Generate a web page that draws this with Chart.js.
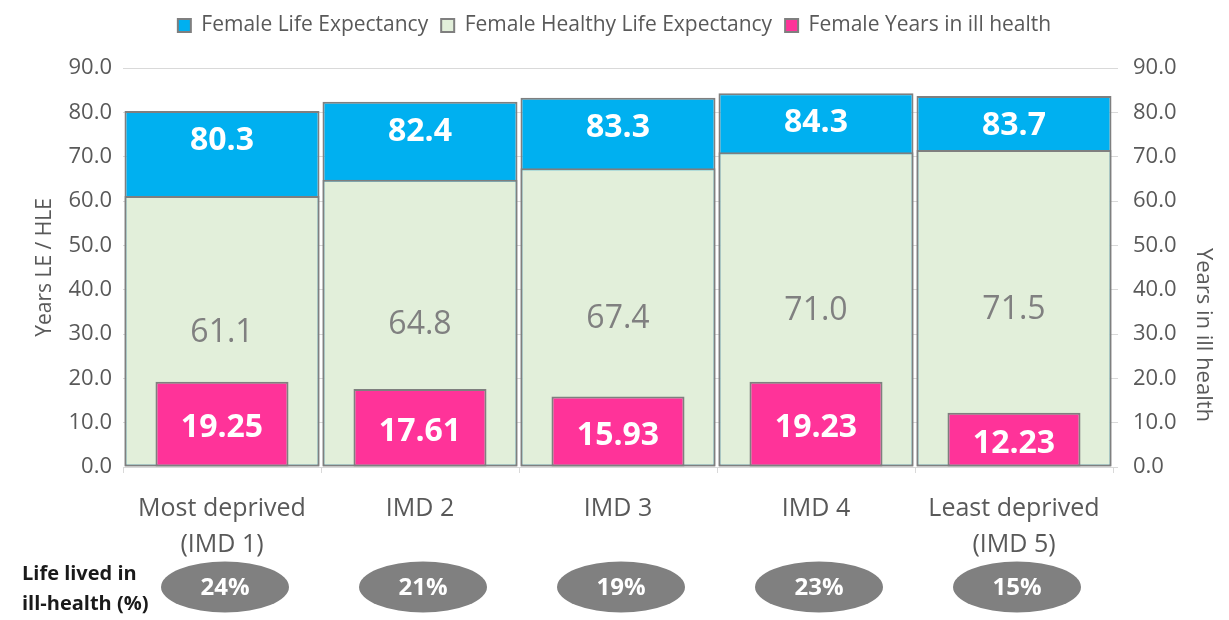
<!DOCTYPE html>
<html>
<head>
<meta charset="utf-8">
<script src="https://cdn.jsdelivr.net/npm/chart.js@4"></script>
<style>
  html, body { margin: 0; padding: 0; background: #fff; }
  #wrap { width: 1229px; height: 620px; }
</style>
</head>
<body>
<div id="wrap"><canvas id="lifeChart" width="1229" height="620"></canvas></div>
<script>
// ==================== DATA ====================
const categories = [['Most deprived', '(IMD 1)'], 'IMD 2', 'IMD 3', 'IMD 4', ['Least deprived', '(IMD 5)']];
const lifeExpectancy = [80.3, 82.4, 83.3, 84.3, 83.7];
const healthyLifeExpectancy = [61.1, 64.8, 67.4, 71.0, 71.5];
const yearsIllHealth = [19.25, 17.61, 15.93, 19.23, 12.23];
const illHealthPct = [24, 21, 19, 23, 15];
const yTickMin = 0, yTickMax = 90, yTickStep = 10;

const FONT = "'Open Sans', sans-serif";
const GREY_TEXT = '#595959';
const GRID = '#D9D9D9';

// ==================== LEGEND SPACER ====================
// extra room under the legend so the plot starts where the original does
const legendSpacer = {
  id: 'legendSpacer',
  beforeInit(chart) {
    const origFit = chart.legend.fit;
    chart.legend.fit = function() {
      origFit.bind(chart.legend)();
      this.height += 22;
    };
  }
};

// ==================== LABEL + ANNOTATION PLUGIN ====================
const extrasPlugin = {
  id: 'extras',
  afterDatasetsDraw(chart) {
    const ctx = chart.ctx;
    ctx.save();
    ctx.textAlign = 'center';
    ctx.textBaseline = 'middle';

    chart.data.datasets.forEach((ds, i) => {
      const meta = chart.getDatasetMeta(i);
      meta.data.forEach((el, j) => {
        const v = ds.data[j];
        if (ds.labelKind === 'top') {
          ctx.font = 'bold 32px ' + FONT;
          ctx.fillStyle = '#fff';
          ctx.fillText(v.toFixed(1), el.x, el.y + 30);
        } else if (ds.labelKind === 'mid') {
          ctx.font = '32px ' + FONT;
          ctx.fillStyle = '#808080';
          ctx.fillText(v.toFixed(1), el.x, (el.y + el.base) / 2 + 2);
        } else {
          ctx.font = 'bold 32px ' + FONT;
          ctx.fillStyle = '#fff';
          ctx.fillText(v.toFixed(2), el.x, (el.y + el.base) / 2 + 4);
        }
      });
    });
    ctx.restore();
  },
  afterDraw(chart) {
    const ctx = chart.ctx;
    const xs = chart.scales.x;
    ctx.save();

    // Ellipses with % of life in ill health
    illHealthPct.forEach((p, j) => {
      const cx = xs.getPixelForValue(j) + 3;
      ctx.beginPath();
      ctx.ellipse(cx, 587, 64, 25.5, 0, 0, Math.PI * 2);
      ctx.fillStyle = '#808080';
      ctx.fill();
      ctx.font = 'bold 24px ' + FONT;
      ctx.fillStyle = '#fff';
      ctx.textAlign = 'center';
      ctx.textBaseline = 'middle';
      ctx.fillText(p + '%', cx, 588);
    });

    // Row label
    ctx.font = 'bold 20px ' + FONT;
    ctx.fillStyle = '#1a1a1a';
    ctx.textAlign = 'left';
    ctx.textBaseline = 'middle';
    ctx.fillText('Life lived in', 22, 574);
    ctx.fillText('ill-health (%)', 22, 604);

    // Right axis title (sits lower than centre in the original)
    ctx.translate(1203, 335);
    ctx.rotate(Math.PI / 2);
    ctx.font = '22px ' + FONT;
    ctx.fillStyle = GREY_TEXT;
    ctx.textAlign = 'center';
    ctx.fillText('Years in ill health', 0, 0);
    ctx.restore();
  }
};

// ==================== CHART ====================
const ctx = document.getElementById('lifeChart').getContext('2d');
new Chart(ctx, {
  type: 'bar',
  data: {
    labels: categories,
    datasets: [
      {
        label: 'Female Life Expectancy',
        data: lifeExpectancy,
        backgroundColor: '#00B0F0',
        borderColor: '#7F7F7F',
        borderWidth: 2,
        borderSkipped: false,
        grouped: false,
        order: 2,
        barPercentage: 0.985,
        categoryPercentage: 1,
        yAxisID: 'y',
        labelKind: 'top'
      },
      {
        label: 'Female Healthy Life Expectancy',
        data: healthyLifeExpectancy,
        backgroundColor: '#E2EFDA',
        borderColor: '#7F7F7F',
        borderWidth: 2,
        borderSkipped: false,
        grouped: false,
        order: 1,
        barPercentage: 0.985,
        categoryPercentage: 1,
        yAxisID: 'y',
        labelKind: 'mid'
      },
      {
        label: 'Female Years in ill health',
        data: yearsIllHealth,
        backgroundColor: '#FF3399',
        borderColor: '#7F7F7F',
        borderWidth: 2,
        borderSkipped: false,
        grouped: false,
        order: 0,
        barPercentage: 0.672,
        categoryPercentage: 1,
        yAxisID: 'y2',
        labelKind: 'pink'
      }
    ]
  },
  options: {
    responsive: false,
    animation: false,
    layout: { padding: { top: 2, bottom: 0, left: 0, right: 0 } },
    plugins: {
      tooltip: { enabled: false },
      legend: {
        display: true,
        position: 'top',
        labels: {
          sort: (a, b) => a.datasetIndex - b.datasetIndex,
          font: { family: FONT, size: 21 },
          color: GREY_TEXT,
          boxWidth: 13,
          boxHeight: 13,
          padding: 13
        }
      }
    },
    scales: {
      x: {
        afterFit: s => { s.height = 153; },
        grid: { display: true, drawOnChartArea: false, offset: true, tickLength: 6, color: GRID },
        border: { display: true, color: GRID, width: 1 },
        ticks: {
          font: { family: FONT, size: 25, lineHeight: 1.44 },
          color: GREY_TEXT,
          padding: 18,
          maxRotation: 0,
          autoSkip: false
        }
      },
      y: {
        position: 'left',
        min: yTickMin,
        max: yTickMax,
        afterFit: s => { s.width = 123; },
        ticks: {
          stepSize: yTickStep,
          font: { family: FONT, size: 22 },
          color: GREY_TEXT,
          padding: 11,
          callback: v => v.toFixed(1)
        },
        grid: { color: GRID, drawTicks: false },
        border: { display: false },
        title: {
          display: true,
          text: 'Years LE / HLE',
          font: { family: FONT, size: 21 },
          color: GREY_TEXT,
          padding: { top: 32, bottom: 0 }
        }
      },
      y2: {
        position: 'right',
        min: yTickMin,
        max: yTickMax,
        afterFit: s => { s.width = 116; },
        ticks: {
          stepSize: yTickStep,
          font: { family: FONT, size: 22 },
          color: GREY_TEXT,
          padding: 15,
          callback: v => v.toFixed(1)
        },
        grid: { drawOnChartArea: false, tickLength: 5, color: GRID },
        border: { display: false }
      }
    }
  },
  plugins: [legendSpacer, extrasPlugin]
});
</script>
</body>
</html>
